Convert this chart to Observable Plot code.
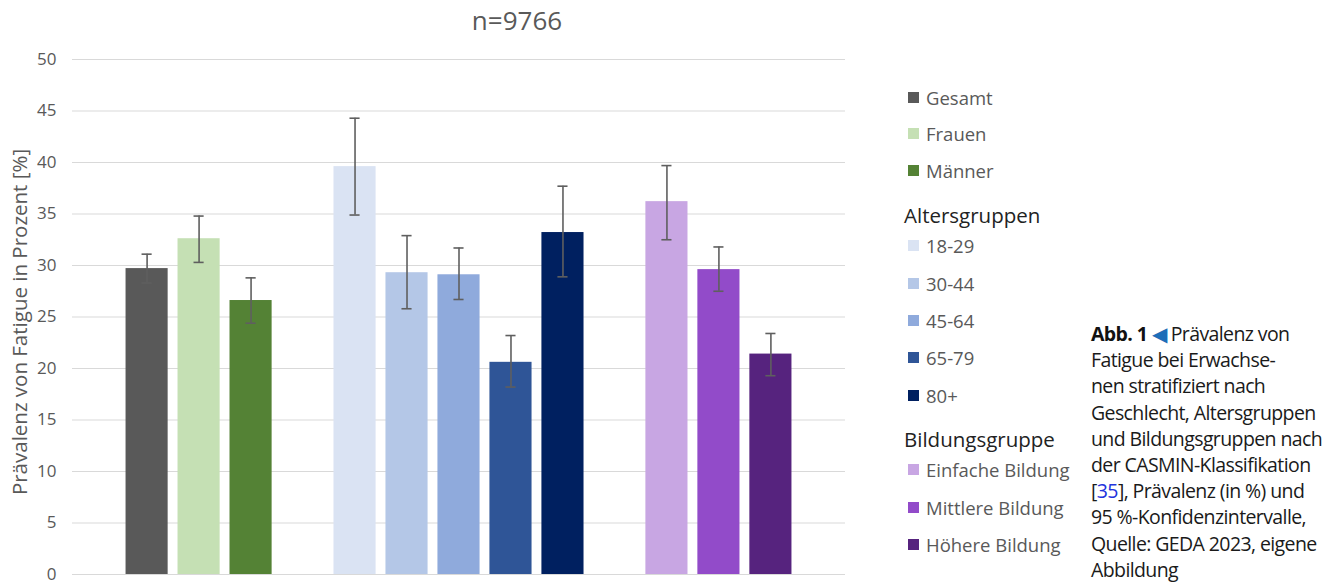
<!DOCTYPE html>
<html><head><meta charset="utf-8">
<script src="https://cdn.jsdelivr.net/npm/d3@7"></script>
<script src="https://cdn.jsdelivr.net/npm/@observablehq/plot@0.6"></script>
<style>
html,body{margin:0;padding:0;background:#fff;}
#wrap{position:relative;width:1339px;height:587px;overflow:hidden;font-family:"Open Sans",sans-serif;}
#chart{position:absolute;left:0;top:0;}
#title{position:absolute;left:0;width:1034px;top:2px;line-height:36px;text-align:center;font-size:26px;color:#595959;}
#ylab{position:absolute;left:19px;top:322px;transform:translate(-50%,-50%) rotate(-90deg);white-space:nowrap;font-size:20.5px;color:#595959;}
.lg{position:absolute;left:908px;height:24px;font-size:18.5px;color:#595959;display:flex;align-items:center;white-space:nowrap;}
.lg .sw{width:11px;height:11px;margin-right:7px;}
.lh{position:absolute;left:904px;height:26px;line-height:26px;font-size:20.5px;color:#222;white-space:nowrap;}
#cap{position:absolute;left:1091px;top:321px;font-size:19.5px;line-height:26.2px;color:#1a1a1a;font-family:"Open Sans",sans-serif;letter-spacing:-0.6px;white-space:nowrap;}
#cap b{font-weight:700;color:#111;}
</style></head>
<body><div id="wrap">
<div id="chart"></div>
<div id="title">n=9766</div>
<div id="ylab">Prävalenz von Fatigue in Prozent [%]</div>
<div id="legend"></div>
<div id="cap"><b>Abb. 1</b> <span style="color:#1d6eb8">◀</span> Prävalenz von<br>Fatigue bei Erwachse-<br>nen stratifiziert nach<br>Geschlecht, Altersgruppen<br>und Bildungsgruppen nach<br>der CASMIN-Klassifikation<br>[<span style="color:#2233dd">35</span>], Prävalenz (in %) und<br>95 %-Konfidenzintervalle,<br>Quelle: GEDA 2023, eigene<br>Abbildung</div>
</div>
<script>
const categories = ["Gesamt","Frauen","Männer"," ","18-29","30-44","45-64","65-79","80+","  ","Einfache Bildung","Mittlere Bildung","Höhere Bildung"];
const values = [29.7, 32.6, 26.6, null, 39.6, 29.3, 29.1, 20.6, 33.2, null, 36.2, 29.6, 21.4];
const lower  = [28.3, 30.3, 24.4, null, 34.9, 25.8, 26.7, 18.2, 28.9, null, 32.5, 27.5, 19.3];
const upper  = [31.1, 34.8, 28.8, null, 44.3, 32.9, 31.7, 23.2, 37.7, null, 39.7, 31.8, 23.4];
const colors = ["#595959","#c5e0b4","#548235","#fff","#dae3f3","#b4c7e7","#8faadc","#2f5597","#002060","#fff","#c8a6e3","#924bc9","#56237e"];
const yTicks = [0,5,10,15,20,25,30,35,40,45,50];
const legendGroups = [
  {heading:null, items:["Gesamt","Frauen","Männer"]},
  {heading:"Altersgruppen", items:["18-29","30-44","45-64","65-79","80+"]},
  {heading:"Bildungsgruppe", items:["Einfache Bildung","Mittlere Bildung","Höhere Bildung"]}
];

const data = categories.map((c,i)=>({cat:c, v:values[i], lo:lower[i], hi:upper[i]})).filter(d=>d.v!=null);

const plot = Plot.plot({
  width: 860, height: 587,
  marginLeft: 72, marginRight: 15, marginTop: 59, marginBottom: 13,
  style:{fontFamily:"Open Sans, sans-serif", fontSize:"17px", color:"#595959", background:"transparent"},
  x:{domain:categories, paddingInner:0.19, paddingOuter:1.03, round:false, axis:null},
  y:{domain:[0,50], ticks:yTicks, grid:false, label:null},
  color:{domain:categories, range:colors},
  marks:[
    Plot.ruleY(yTicks, {stroke:"#d9d9d9", strokeWidth:1.2}),
    Plot.axisY(yTicks, {tickSize:0, tickPadding:16, fill:"#595959", fontSize:17, label:null}),
    Plot.barY(data, {x:"cat", y:"v", fill:"cat"}),
    Plot.ruleX(data, {x:"cat", y1:"lo", y2:"hi", stroke:"#5f5f5f", strokeWidth:1.6}),
    Plot.tickY(data, {x:"cat", y:"lo", stroke:"#5f5f5f", strokeWidth:1.6, insetLeft:16, insetRight:16}),
    Plot.tickY(data, {x:"cat", y:"hi", stroke:"#5f5f5f", strokeWidth:1.6, insetLeft:16, insetRight:16})
  ]
});
document.getElementById("chart").appendChild(plot);

// legend
const legendTops = {"Gesamt":98,"Frauen":134,"Männer":171,"18-29":246,"30-44":284,"45-64":321,"65-79":358,"80+":396,"Einfache Bildung":470,"Mittlere Bildung":508,"Höhere Bildung":545};
const headTops = {"Altersgruppen":216,"Bildungsgruppe":440};
const lg = document.getElementById("legend");
legendGroups.forEach(g=>{
  if(g.heading){
    const h=document.createElement("div"); h.className="lh"; h.textContent=g.heading;
    h.style.top=(headTops[g.heading]-14)+"px"; lg.appendChild(h);
  }
  g.items.forEach(it=>{
    const d=document.createElement("div"); d.className="lg";
    d.style.top=(legendTops[it]-13)+"px";
    const s=document.createElement("span"); s.className="sw"; s.style.background=colors[categories.indexOf(it)];
    d.appendChild(s); d.appendChild(document.createTextNode(it)); lg.appendChild(d);
  });
});
</script>
</body></html>
